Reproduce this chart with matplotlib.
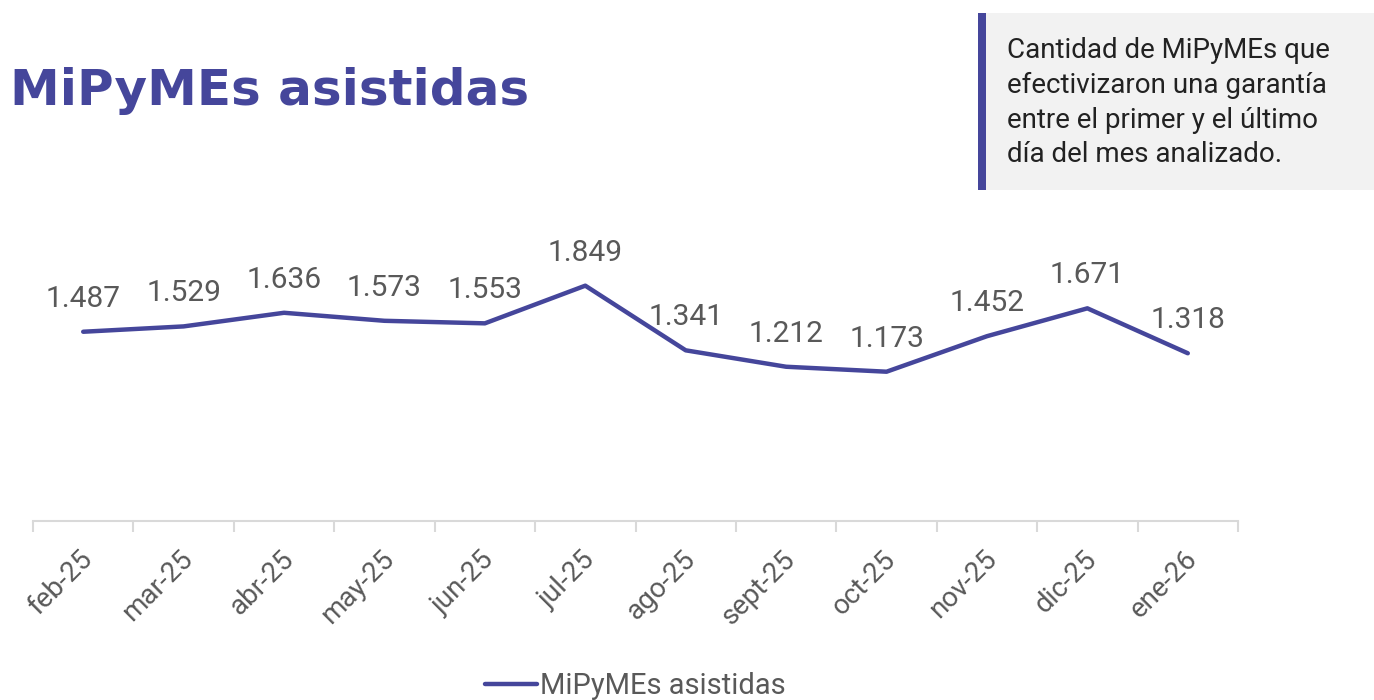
import numpy as np
import matplotlib
matplotlib.use("Agg")
import matplotlib.pyplot as plt
import matplotlib.transforms as mtrans
from matplotlib.patches import Rectangle

# datos
meses = ["feb-25", "mar-25", "abr-25", "may-25", "jun-25", "jul-25",
         "ago-25", "sept-25", "oct-25", "nov-25", "dic-25", "ene-26"]
asistidas = [1487, 1529, 1636, 1573, 1553, 1849, 1341, 1212, 1173, 1452, 1671, 1318]
etiquetas = ["1.487", "1.529", "1.636", "1.573", "1.553", "1.849",
             "1.341", "1.212", "1.173", "1.452", "1.671", "1.318"]

violeta = "#45469b"
gris_txt = "#595959"
fuente = ["Roboto", "DejaVu Sans"]

W, H = 1374, 700
fig = plt.figure(figsize=(W / 100, H / 100), dpi=100)

# eje principal (pixeles -> fracciones)
x0, x1 = 33, 1238
yb, yt = 521, 241
ax = fig.add_axes([x0 / W, 1 - yb / H, (x1 - x0) / W, (yb - yt) / H])
x = np.arange(len(meses))
ax.plot(x, asistidas, color=violeta, lw=3.2, solid_capstyle="round",
        solid_joinstyle="round", label="MiPyMEs asistidas")
for xi, v, t in zip(x, asistidas, etiquetas):
    ax.annotate(t, (xi, v), xytext=(0, 18), textcoords="offset points",
                ha="center", va="baseline", fontsize=21.5, color=gris_txt,
                family=fuente)

ax.set_xlim(-0.5, len(meses) - 0.5)
ax.set_ylim(0, 2200)
for s in ["top", "right", "left"]:
    ax.spines[s].set_visible(False)
ax.spines["bottom"].set_color("#d9d9d9")
ax.spines["bottom"].set_linewidth(1.5)
ax.set_yticks([])
ax.set_xticks(np.arange(-0.5, len(meses), 1.0), minor=False)
ax.set_xticklabels([])
ax.tick_params(axis="x", which="major", length=8, width=1.5, color="#d9d9d9")
ax.set_xticks(x, minor=True)
ax.set_xticklabels(meses, minor=True, rotation=45, ha="right",
                   rotation_mode="anchor", fontsize=20, color=gris_txt,
                   family=fuente)
ax.tick_params(axis="x", which="minor", length=0, pad=12)
desplaza = mtrans.ScaledTranslation(-4 / 100, -8 / 100, fig.dpi_scale_trans)
for lab in ax.get_xticklabels(minor=True):
    lab.set_transform(lab.get_transform() + desplaza)

leg = fig.legend(loc="center", bbox_to_anchor=((x0 + x1) / 2 / W, 1 - 686 / H),
                 frameon=False, prop={"family": fuente, "size": 21},
                 handlelength=1.8, handletextpad=0.1)
for t in leg.get_texts():
    t.set_color(gris_txt)

# titulo
fig.text(10 / W, 1 - 91 / H, "MiPyMEs asistidas", fontsize=36, fontweight="bold",
         color=violeta, va="center", ha="left", family=["DejaVu Sans"])

# recuadro de descripcion
fig.patches.append(Rectangle((978 / W, 1 - 190 / H), (W - 978) / W, 177 / H,
                             transform=fig.transFigure, facecolor="#f2f2f2",
                             edgecolor="none", zorder=0))
fig.patches.append(Rectangle((978 / W, 1 - 190 / H), 8 / W, 177 / H,
                             transform=fig.transFigure, facecolor=violeta,
                             edgecolor="none", zorder=1))
lineas = ["Cantidad de MiPyMEs que", "efectivizaron una garantía",
          "entre el primer y el último", "día del mes analizado."]
for i, l in enumerate(lineas):
    fig.text(1007 / W, 1 - (50 + 35 * i) / H, l, fontsize=20, color="#222222",
             va="center", ha="left", family=fuente)

fig.savefig("out.png", dpi=100)
